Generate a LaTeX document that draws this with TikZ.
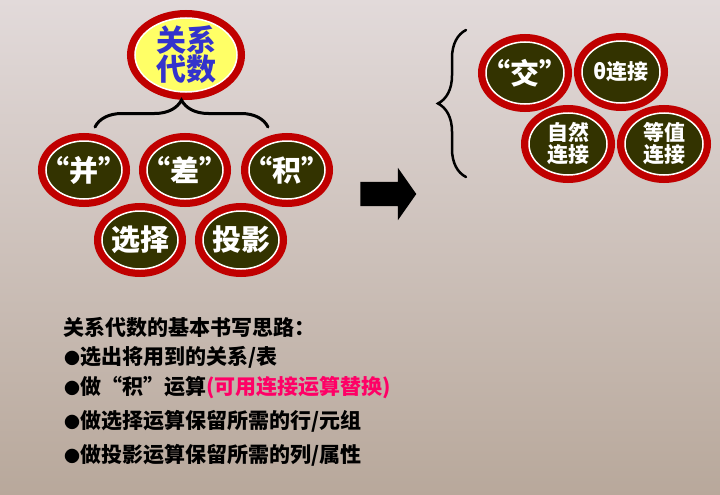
\documentclass[tikz,border=0pt]{standalone}
\usepackage{fontspec}
\newfontfamily\cjk{Noto Sans CJK SC}
\usetikzlibrary{shapes.geometric,shapes.arrows,decorations.pathreplacing}
\definecolor{ringred}{HTML}{C00000}
\definecolor{darkolive}{HTML}{333300}
\definecolor{paleyellow}{HTML}{FFFF66}
\definecolor{blueword}{HTML}{3333CC}
\definecolor{hotpink}{HTML}{FF0066}
\definecolor{bgtop}{HTML}{E2DADA}
\definecolor{bgbot}{HTML}{B8A89B}
\newcommand{\dotmark}{{\fontsize{16}{16}\selectfont ●}}
\tikzset{
  opnode/.style={ellipse, fill=darkolive, draw=white, line width=1.5pt,
    preaction={draw=ringred, line width=16pt}, inner sep=0pt,
    minimum width=76pt, minimum height=58pt},
  opword/.style={text=white, font=\cjk\bfseries\fontsize{29}{31}\selectfont, align=center},
  joinnode/.style={opnode, minimum width=78pt, minimum height=62pt},
  joinword/.style={opword, font=\cjk\bfseries\fontsize{21}{22}\selectfont},
  topnode/.style={ellipse, fill=paleyellow, draw=white, line width=1.5pt,
    preaction={draw=ringred, line width=16pt}, inner sep=0pt,
    minimum width=102pt, minimum height=74pt},
  topword/.style={text=blueword, font=\cjk\bfseries\fontsize{30}{29}\selectfont, align=center},
  noteline/.style={anchor=west, inner sep=0pt, font=\cjk\bfseries\fontsize{21}{24}\selectfont},
  bracket/.style={decorate, line width=3pt, line cap=round}
}
\begin{document}
\begin{tikzpicture}[x=1pt,y=-1pt]
  \fill[top color=bgtop, bottom color=bgbot] (0,0) rectangle (720,495);
  \useasboundingbox (0,0) rectangle (720,495);

  % relational algebra and its five operations
  \node[topnode, label={[topword]center:关系\\代数}] (gxds) at (186,55) {};

  \coordinate (bl) at (95,127);
  \coordinate (br) at (268,127);
  \draw[bracket, decoration={brace, amplitude=27pt}] (bl) -- (br);

  \node[opnode, label={[opword]center:“并”}] (bing) at (84,170) {};
  \node[opnode, label={[opword]center:“差”}] (cha) at (185,170) {};
  \node[opnode, label={[opword]center:“积”}] (ji) at (287,170) {};
  \node[opnode, label={[opword]center:选择}] (xuanze) at (140,240) {};
  \node[opnode, label={[opword]center:投影}] (touying) at (241,240) {};

  \node[single arrow, fill=black, inner xsep=0pt, inner ysep=12pt,
    minimum height=56pt, single arrow head extend=14pt,
    single arrow tip angle=110] (goto) at (384,194) {};

  % derived operations
  \coordinate (rb) at (466,177);
  \coordinate (rt) at (466,30);
  \draw[bracket, line width=2.5pt, decoration={brace, amplitude=28pt}] (rb) -- (rt);

  \node[joinnode, label={[opword]center:“交”}] (jiao) at (525,73) {};
  \node[joinnode, label={[joinword]center:θ连接}] (theta) at (621,72) {};
  \node[joinnode, label={[joinword]center:自然\\连接}] (ziran) at (568,144) {};
  \node[joinnode, label={[joinword]center:等值\\连接}] (dengzhi) at (664,144) {};

  % writing steps
  \node[noteline] (l1) at (63,327) {关系代数的基本书写思路：};
  \node[noteline] (l2) at (64,357) {\dotmark 选出将用到的关系/表};
  \node[noteline] (l3) at (64,388) {\dotmark 做“积”运算{\color{hotpink}(可用连接运算替换)}};
  \node[noteline] (l4) at (64,421) {\dotmark 做选择运算保留所需的行/元组};
  \node[noteline] (l5) at (64,455) {\dotmark 做投影运算保留所需的列/属性};
\end{tikzpicture}
\end{document}
